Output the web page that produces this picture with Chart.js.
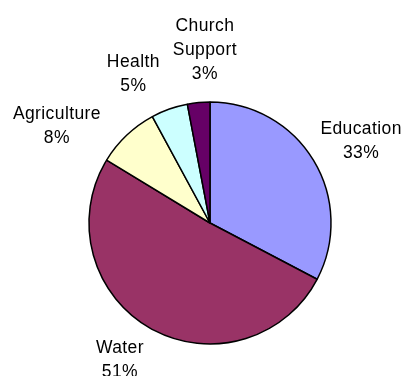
<!DOCTYPE html>
<html>
<head>
<meta charset="utf-8">
<script src="https://cdn.jsdelivr.net/npm/chart.js@4/dist/chart.umd.min.js"></script>
<style>
  html, body { margin: 0; padding: 0; background: #fff; }
  #wrap { width: 406px; height: 376px; }
</style>
</head>
<body>
<div id="wrap"><canvas id="pie-canvas" width="406" height="376"></canvas></div>
<script>
// chart data
var categories = ['Education', 'Water', 'Agriculture', 'Health', 'Church Support'];
var shares = [32.7, 51.0, 8.4, 4.9, 3.0];
var sliceColors = ['#9999FF', '#993366', '#FFFFCC', '#CCFFFF', '#660066'];

// where each label sits: extra angle (deg) off the slice middle, and distance from centre
var labelShift = [2.6, 3.8, -14.2, -7.7, 3.7];
var labelDist = [172, 164, 181, 167, 173];

var outsideLabels = {
    id: 'outsideLabels',
    afterDraw: function(chart) {
        var ctx = chart.ctx;
        var arcs = chart.getDatasetMeta(0).data;
        var total = shares.reduce(function(a, b) { return a + b; }, 0);
        ctx.save();
        ctx.font = '17.5px "Liberation Sans", Arial, sans-serif';
        ctx.letterSpacing = '0.4px';
        ctx.fillStyle = '#000';
        ctx.textAlign = 'center';
        ctx.textBaseline = 'middle';
        arcs.forEach(function(arc, i) {
            var mid = (arc.startAngle + arc.endAngle) / 2 + labelShift[i] * Math.PI / 180;
            var cx = arc.x + labelDist[i] * Math.cos(mid);
            var cy = arc.y + labelDist[i] * Math.sin(mid);
            var lines = categories[i].split(' ');
            lines.push(Math.round(shares[i] / total * 100) + '%');
            var lh = 24;
            var top = cy - (lines.length - 1) * lh / 2;
            lines.forEach(function(t, j) {
                ctx.fillText(t, cx, top + j * lh);
            });
        });
        ctx.restore();
    }
};

var chart = new Chart(document.getElementById('pie-canvas').getContext('2d'), {
    type: 'pie',
    data: {
        labels: categories,
        datasets: [{
            data: shares,
            backgroundColor: sliceColors,
            borderColor: '#000',
            borderWidth: 1.5
        }]
    },
    options: {
        responsive: false,
        animation: false,
        radius: 121,
        layout: { padding: { left: 14, right: 0, top: 70, bottom: 0 } },
        plugins: {
            legend: { display: false },
            tooltip: { enabled: false }
        }
    },
    plugins: [outsideLabels]
});
</script>
</body>
</html>
